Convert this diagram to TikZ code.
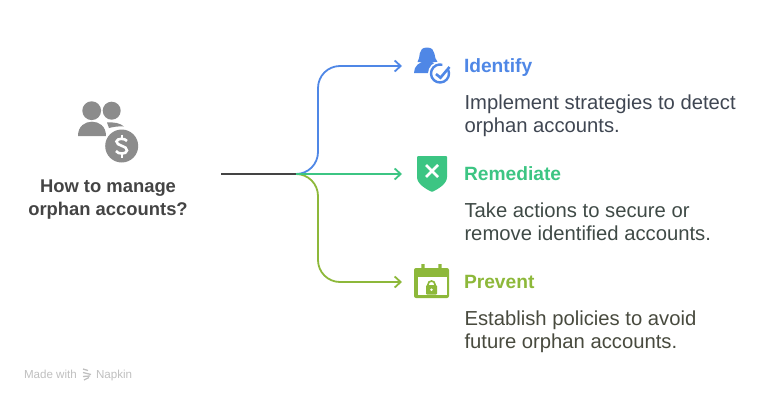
\documentclass[tikz,border=0pt]{standalone}
\usepackage{fontspec}
\usetikzlibrary{arrows.meta}
\setmainfont{Liberation Sans}
\definecolor{idblue}{HTML}{4F87E6}
\definecolor{remgreen}{HTML}{3CC583}
\definecolor{prevolive}{HTML}{8DB83A}
\definecolor{icongray}{HTML}{8C8C8C}
\definecolor{rootdark}{HTML}{444444}
\definecolor{idtext}{HTML}{3F4652}
\definecolor{remtext}{HTML}{3F4A46}
\definecolor{prevtext}{HTML}{484A3E}
\tikzset{
  every node/.style={inner sep=0pt,outer sep=0pt},
  head/.style={anchor=base west,font=\fontsize{19.2}{22}\selectfont\bfseries},
  body/.style={anchor=base west,font=\fontsize{20.25}{23}\selectfont},
  title/.style={anchor=base,font=\fontsize{18.4}{22}\selectfont\bfseries,text=rootdark},
  foot/.style={anchor=base west,font=\fontsize{11.6}{13}\selectfont,text=black!25},
  link/.style={line width=1.8pt,rounded corners=22pt,-{Straight Barb[length=6pt,width=11pt]}}
}
\begin{document}
\begin{tikzpicture}[x=1pt,y=-1pt]
      \useasboundingbox (0,0) rectangle (774,402);

      % left icon
      \fill [icongray] (91.7,110.7) circle (9.4);
      \fill [icongray] (111.7,110.7) circle (9);
      \fill [icongray] (78,136) .. controls (78,126) and (85,121.7) .. (92,121.7)
        .. controls (99,121.7) and (106,126) .. (106,136) -- cycle;
      \fill [icongray] (107,122.5) .. controls (114,122) and (120,123) .. (124,126.5)
        .. controls (118,126) and (113,127) .. (109,128) -- cycle;
      \fill [white] (121.7,146) circle (18.5);
      \fill [icongray] (121.7,146) circle (16.5);
      \draw [white,line width=2.6pt] (127,141) .. controls (125,138) and (117,138) .. (116.5,141.5)
        .. controls (116,146) and (127.5,145.5) .. (127,150.5)
        .. controls (126.5,154.5) and (118,154.5) .. (116,151);
      \draw [white,line width=2.4pt] (121.7,134.5) -- (121.7,138.5) (121.7,153.5) -- (121.7,157.5);

      % top icon
      \fill [idblue] (417.5,62) .. controls (421,58) and (417,47.5) .. (427,47.5)
        .. controls (437,47.5) and (433,58) .. (437.5,62) -- cycle;
      \fill [idblue] (414,73) .. controls (414,66) and (419,62) .. (426,61)
        .. controls (430,61) and (433,62) .. (436,64) -- (430,73) -- cycle;
      \fill [white] (440,73.5) circle (12);
      \draw [idblue,line width=2.4pt] (440,73.5) ++(-25:9) arc (-25:285:9);
      \draw [idblue,line width=2.6pt] (436,74) -- (440.5,77.7) -- (449.5,67);

      % middle icon
      \fill [remgreen,rounded corners=1pt] (417,156) -- (447,156) -- (447,176)
        .. controls (447,184) and (438,189) .. (432,192)
        .. controls (426,189) and (417,184) .. (417,176) -- cycle;
      \draw [white,line width=2.6pt] (426,165) -- (438,177) (438,165) -- (426,177);

      % bottom icon
      \fill [prevolive,rounded corners=2pt] (414,268) rectangle (449,298);
      \fill [white] (417.5,277) rectangle (446.5,295);
      \fill [prevolive] (421.3,264) rectangle (424.7,270) (438.3,264) rectangle (441.7,270);
      \fill [prevolive,rounded corners=1pt] (426,285) rectangle (437,294.5);
      \draw [prevolive,line width=1.7pt] (428,286) -- (428,284.5) arc (-180:0:3.5) -- (435,286);
      \fill [white] (431.5,289.7) circle (1.4);

      % branches
      \coordinate (root) at (221,174);
      \coordinate (hub) at (296,174);
      \coordinate (elbowtop) at (318,66);
      \coordinate (elbowbot) at (318,282);
      \coordinate (identify) at (402,66);
      \coordinate (remediate) at (402,174);
      \coordinate (prevent) at (402,282);

      \draw [link,idblue] (hub) -| (elbowtop) -- (identify);
      \draw [link,prevolive] (hub) -| (elbowbot) -- (prevent);
      \draw [link,remgreen] (hub) -- (remediate);
      \draw [rootdark,line width=1.8pt] (root) -- (hub);

      \node [title] (q1) at (108,192.5) {How to manage};
      \node [title] (q2) at (108,215.5) {orphan accounts?};

      \node [head,text=idblue] (h1) at (464,72.5) {Identify};
      \node [body,text=idtext] (b1a) at (464.5,109.5) {Implement strategies to detect};
      \node [body,text=idtext] (b1b) at (464.5,132.5) {orphan accounts.};

      \node [head,text=remgreen] (h2) at (464,180.5) {Remediate};
      \node [body,text=remtext] (b2a) at (464.5,217.5) {Take actions to secure or};
      \node [body,text=remtext] (b2b) at (464.5,240.5) {remove identified accounts.};

      \node [head,text=prevolive] (h3) at (464,288.5) {Prevent};
      \node [body,text=prevtext] (b3a) at (464.5,325.5) {Establish policies to avoid};
      \node [body,text=prevtext] (b3b) at (464.5,348.5) {future orphan accounts.};

      % footer
      \node [foot] (made) at (24,378.5) {Made with};
      \node [foot] (napkin) at (96,378.5) {Napkin};
      \draw [black!25,line width=1.3pt] (83,369) -- (88,370.5) (83,372.5) -- (91,374.5) (83,376.5) -- (90,376) (84,380) -- (89,377.5);
    \end{tikzpicture}
\end{document}
